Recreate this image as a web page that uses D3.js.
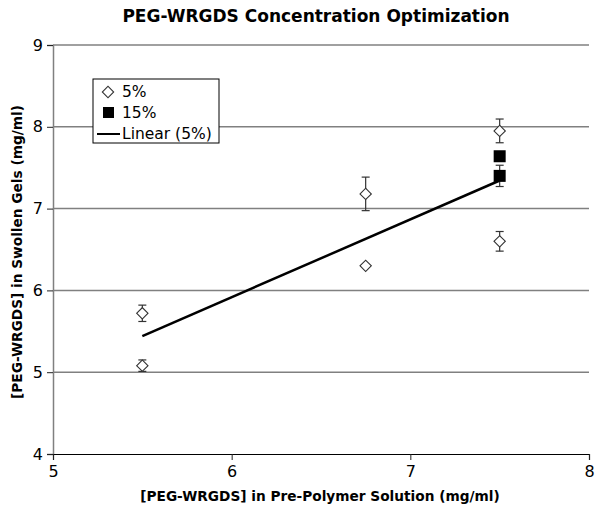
<!DOCTYPE html>
<html>
<head>
<meta charset="utf-8">
<script src="https://cdn.jsdelivr.net/npm/d3@7"></script>
<style>
  body { margin: 0; background: #fff; }
  svg text { font-family: "DejaVu Sans", Verdana, sans-serif; fill: #000; }
</style>
</head>
<body>
<svg id="chart" width="600" height="511"></svg>
<script>
// data
const x5 = [5.5, 5.5, 6.75, 6.75, 7.5, 7.5];
const y5 = [5.72, 5.08, 7.18, 6.30, 7.95, 6.60];
const err5 = [0.10, 0.07, 0.205, 0.0, 0.145, 0.12];
const x15 = [7.5, 7.5];
const y15 = [7.64, 7.40];
const err15 = [0.0, 0.13];
const xTicks = [5, 6, 7, 8];
const yTicks = [4, 5, 6, 7, 8, 9];
const legendLabels = ["5%", "15%", "Linear (5%)"];

const svg = d3.select("#chart");
const margin = {top: 45, left: 53, right: 11, bottom: 57};
const W = 600, H = 511;
const innerW = W - margin.left - margin.right;
const innerH = H - margin.top - margin.bottom;

const xScale = d3.scaleLinear().domain([5, 8]).range([0, innerW]);
const yScale = d3.scaleLinear().domain([4, 9]).range([innerH, 0]);

const g = svg.append("g").attr("transform", `translate(${margin.left},${margin.top})`);

// gridlines
g.selectAll(".grid").data(yTicks.filter(d => d > 4)).enter()
  .append("line")
  .attr("x1", 0).attr("x2", innerW)
  .attr("y1", d => yScale(d)).attr("y2", d => yScale(d))
  .attr("stroke", "#808080").attr("stroke-width", 1.5);

// y axis
const yAxis = g.append("g")
  .call(d3.axisLeft(yScale).tickValues(yTicks).tickSize(6).tickPadding(4).tickFormat(d3.format("d")));
yAxis.select(".domain").attr("stroke", "#808080").attr("stroke-width", 1.5);
yAxis.selectAll(".tick line").attr("stroke", "#222");
yAxis.selectAll("text").attr("font-size", 16).attr("font-family", null);

// x axis
const xAxis = g.append("g")
  .attr("transform", `translate(0,${innerH})`)
  .call(d3.axisBottom(xScale).tickValues(xTicks).tickSize(6).tickPadding(6).tickFormat(d3.format("d")));
xAxis.select(".domain").attr("stroke", "#000").attr("stroke-width", 1.2);
xAxis.selectAll(".tick line").attr("stroke", "#222");
xAxis.selectAll("text").attr("font-size", 16).attr("font-family", null);

// linear fit of 5% series
const mx = d3.mean(x5), my = d3.mean(y5);
const slope = d3.sum(x5, (d, i) => (d - mx) * (y5[i] - my)) / d3.sum(x5, d => (d - mx) ** 2);
const fitX = d3.extent(x5);
g.append("path")
  .attr("d", d3.line().x(d => xScale(d)).y(d => yScale(my + slope * (d - mx)))(fitX))
  .attr("fill", "none").attr("stroke", "#000").attr("stroke-width", 2.5);

// error bars
function errBars(xs, ys, es) {
  const data = xs.map((x, i) => ({x, y: ys[i], e: es[i]})).filter(d => d.e > 0);
  const eg = g.append("g").attr("stroke", "#333").attr("stroke-width", 1.2);
  data.forEach(d => {
    const cx = xScale(d.x);
    eg.append("line").attr("x1", cx).attr("x2", cx)
      .attr("y1", yScale(d.y + d.e)).attr("y2", yScale(d.y - d.e));
    [d.y + d.e, d.y - d.e].forEach(v => {
      eg.append("line").attr("x1", cx - 4).attr("x2", cx + 4)
        .attr("y1", yScale(v)).attr("y2", yScale(v));
    });
  });
}
errBars(x5, y5, err5);
errBars(x15, y15, err15);

const diamond = d3.symbol().type(d3.symbolSquare).size(64);

// 5% diamonds
g.selectAll(".p5").data(x5).enter()
  .append("path")
  .attr("d", diamond)
  .attr("transform", (d, i) => `translate(${xScale(d)},${yScale(y5[i])}) rotate(45)`)
  .attr("fill", "#fff").attr("stroke", "#333").attr("stroke-width", 1.1);

// 15% squares
g.selectAll(".p15").data(x15).enter()
  .append("rect")
  .attr("x", d => xScale(d) - 6)
  .attr("y", (d, i) => yScale(y15[i]) - 6)
  .attr("width", 12).attr("height", 12)
  .attr("fill", "#000");

// legend
const lg = svg.append("g").attr("transform", "translate(93,79)");
lg.append("rect").attr("width", 126).attr("height", 64)
  .attr("fill", "#fff").attr("stroke", "#000").attr("stroke-width", 1);
lg.append("path").attr("d", diamond)
  .attr("transform", "translate(15,13) rotate(45)")
  .attr("fill", "#fff").attr("stroke", "#333").attr("stroke-width", 1.1);
lg.append("rect").attr("x", 10).attr("y", 28).attr("width", 11).attr("height", 11).attr("fill", "#000");
lg.append("line").attr("x1", 4).attr("x2", 27).attr("y1", 55).attr("y2", 55)
  .attr("stroke", "#000").attr("stroke-width", 2);
lg.selectAll(".lt").data(legendLabels).enter()
  .append("text")
  .attr("x", 29).attr("y", (d, i) => 17.5 + i * 21)
  .attr("font-size", 15.5)
  .text(d => d);

// titles
svg.append("text")
  .attr("x", 316).attr("y", 22)
  .attr("text-anchor", "middle").attr("font-size", 17).attr("font-weight", "bold")
  .text("PEG-WRGDS Concentration Optimization");
svg.append("text")
  .attr("x", 320).attr("y", 501)
  .attr("text-anchor", "middle").attr("font-size", 13.7).attr("font-weight", "bold")
  .text("[PEG-WRGDS] in Pre-Polymer Solution (mg/ml)");
svg.append("text")
  .attr("transform", "translate(22,252) rotate(-90)")
  .attr("text-anchor", "middle").attr("font-size", 13.7).attr("font-weight", "bold")
  .text("[PEG-WRGDS] in Swollen Gels (mg/ml)");
</script>
</body>
</html>
